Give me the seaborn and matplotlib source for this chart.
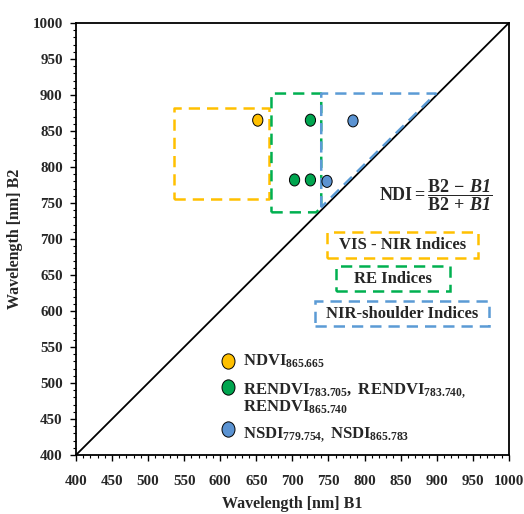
import matplotlib
matplotlib.use("Agg")
import matplotlib.pyplot as plt
from matplotlib.patches import Rectangle
from matplotlib.path import Path
import seaborn as sns
import pandas as pd

# Band-pair positions of the selected indices (B1, B2 in nm)
index_group = ["NDVI", "RENDVI", "RENDVI", "RENDVI", "NSDI", "NSDI"]
band1 = [652, 725, 703, 725, 748, 784]
band2 = [865, 865, 782, 782, 780, 864]

# Spectral regions covered by each index family (B1 range, B2 range)
vis_nir_b1 = [536, 667]
vis_nir_b2 = [756, 882]
re_b1 = [671, 740]
re_b2 = [737, 902]
shoulder_b1 = [740, 899]
shoulder_b2 = [744, 902]

axis_range = [400, 1000]
major_ticks = list(range(400, 1001, 50))

YELLOW = "#FFC000"
GREEN = "#00B050"
BLUE = "#5B9BD5"
MARK_COLORS = {"NDVI": "#FFC000", "RENDVI": "#00A54F", "NSDI": "#5B93D2"}
DASH = (0, (4.5, 2.8))

sns.set_theme(style="white")
plt.rcParams["font.family"] = ["Liberation Serif", "DejaVu Serif"]
plt.rcParams["font.weight"] = "bold"
plt.rcParams["mathtext.fontset"] = "custom"
plt.rcParams["mathtext.rm"] = "Liberation Serif"
plt.rcParams["mathtext.bf"] = "Liberation Serif:bold"
plt.rcParams["mathtext.it"] = "Liberation Serif:italic"
plt.rcParams["mathtext.bfit"] = "Liberation Serif:bold:italic"

# slightly upright oval marker
circ = Path.unit_circle()
oval = Path(circ.vertices * [0.85, 1.0], circ.codes)

fig = plt.figure(figsize=(5.24, 5.14), dpi=100)
ax = fig.add_axes([0.145, 0.1148, 0.826, 0.8405])

df = pd.DataFrame({"B1": band1, "B2": band2, "group": index_group})

# 1:1 line
diag = pd.DataFrame({"x": axis_range, "y": axis_range})
sns.lineplot(data=diag, x="x", y="y", color="black", lw=1.3, ax=ax)

dash = dict(lw=1.8, ls=DASH, zorder=2)

# VIS-NIR region
x0, x1 = vis_nir_b1
y0, y1 = vis_nir_b2
ax.plot([x0, x1, x1, x0, x0], [y0, y0, y1, y1, y0], color=YELLOW, **dash)

# Red-edge region, corner trimmed by the 1:1 line
x0, x1 = re_b1
y0, y1 = re_b2
ax.plot([x0, x1 - 7, x1, x1, x0, x0], [y0, y0, y0 + 7, y1, y1, y0],
        color=GREEN, **dash)

# NIR-shoulder region (above the 1:1 line)
x0, x1 = shoulder_b1
y0, y1 = shoulder_b2
ax.plot([x0, x0, x1, x0], [y0, y1, y1, y0], color=BLUE, **dash)

sns.scatterplot(data=df, x="B1", y="B2", hue="group", palette=MARK_COLORS,
                marker=oval, s=75, edgecolor="black", linewidth=0.7,
                legend=False, zorder=4, ax=ax)

ax.set_xlim(axis_range)
ax.set_ylim(axis_range)
ax.set_xticks(major_ticks)
ax.set_yticks(major_ticks)
ax.set_xticks(list(range(400, 1001, 10)), minor=True)
ax.set_yticks(list(range(400, 1001, 10)), minor=True)
ax.tick_params(which="major", direction="out", length=4.5, width=1.0,
               color="black", labelsize=10.8, bottom=True, left=True)
ax.tick_params(which="minor", direction="out", length=2.5, width=0.8,
               color="black", bottom=True, left=True)
ax.tick_params(axis="x", pad=10)
ax.tick_params(axis="y", pad=5)
for lab in ax.get_xticklabels() + ax.get_yticklabels():
    lab.set_fontweight("bold")
for sp in ax.spines.values():
    sp.set_color("black")
    sp.set_linewidth(1.3)

ax.set_xlabel("Wavelength [nm] B1", fontsize=11.5, fontweight="bold", labelpad=6)
ax.set_ylabel("Wavelength [nm] B2", fontsize=11.5, fontweight="bold", labelpad=7)

# Index formula
ax.text(0.70, 0.602,
        r"$\mathbf{NDI} = \dfrac{\mathbf{B2}\,-\,\mathbfit{B1}}{\mathbf{B2}\,+\,\mathbfit{B1}}$",
        transform=ax.transAxes, ha="left", va="center", fontsize=13)

# Region labels in dashed frames
def region_label(box, center, text, color):
    (bx0, bx1), (by0, by1) = box
    ax.add_patch(Rectangle((bx0, by0), bx1 - bx0, by1 - by0,
                           transform=ax.transAxes, fc="white", ec=color,
                           lw=1.8, ls=DASH, zorder=3))
    ax.text(center[0], center[1], text, transform=ax.transAxes,
            ha="center", va="center", fontsize=12, fontweight="bold", zorder=4)

region_label(((0.580, 0.928), (0.456, 0.516)), (0.754, 0.485),
             "VIS - NIR Indices", YELLOW)
region_label(((0.600, 0.864), (0.380, 0.4375)), (0.732, 0.408),
             "RE Indices", GREEN)
region_label(((0.552, 0.954), (0.2986, 0.3565)), (0.753, 0.327),
             "NIR-shoulder Indices", BLUE)

# Marker key
key_x = 0.351
text_x = 0.386
for yk, col in [(0.2176, MARK_COLORS["NDVI"]), (0.157, MARK_COLORS["RENDVI"]),
                (0.060, MARK_COLORS["NSDI"])]:
    ax.plot([key_x], [yk], marker=oval, ms=11, mfc=col, mec="black", mew=0.7,
            transform=ax.transAxes, clip_on=False, zorder=5)

key_fs = 12
key_lines = [
    (0.206, r"$\mathbf{NDVI}_{\mathrm{865.665}}$"),
    (0.141, r"$\mathbf{RENDVI}_{\mathrm{783.705}}\mathbf{,\ RENDVI}_{\mathrm{783.740,}}$"),
    (0.0995, r"$\mathbf{RENDVI}_{\mathrm{865.740}}$"),
    (0.039, r"$\mathbf{NSDI}_{\mathrm{779.754,}}\ \mathbf{NSDI}_{\mathrm{865.783}}$"),
]
for yk, txt in key_lines:
    ax.text(text_x, yk, txt, transform=ax.transAxes, ha="left",
            va="baseline", fontsize=key_fs)

fig.savefig("out.png", dpi=100)
